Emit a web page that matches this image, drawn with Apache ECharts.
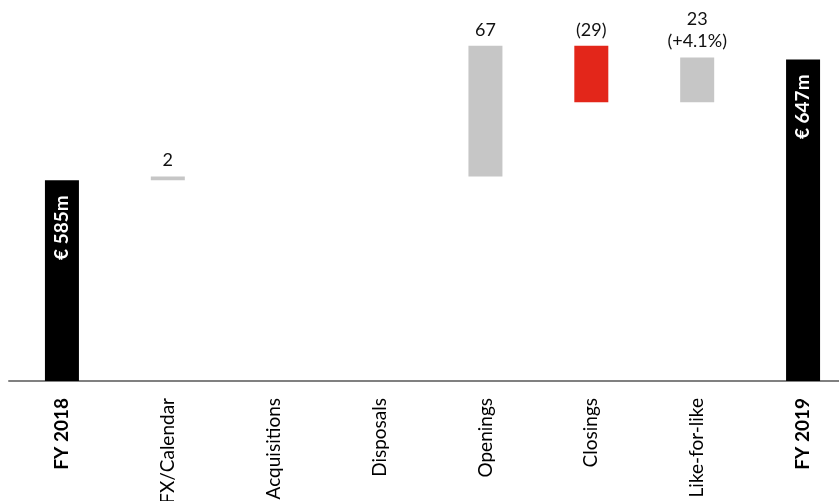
<!DOCTYPE html>
<html>
<head>
<meta charset="utf-8">
<title>Revenue bridge FY 2018 – FY 2019</title>
<script src="https://cdn.jsdelivr.net/npm/echarts@6/dist/echarts.min.js"></script>
<style>
  html, body { margin: 0; padding: 0; background: #fff; overflow: hidden; }
  #chart { width: 860px; height: 501px; }
</style>
</head>
<body>
<div id="chart"></div>
<script>
// Bridge steps from FY 2018 to FY 2019 revenue (€ m)
const categories = ['FY 2018', 'FX/Calendar', 'Acquisitions', 'Disposals', 'Openings', 'Closings', 'Like-for-like', 'FY 2019'];
const kinds = ['total', 'delta', 'delta', 'delta', 'delta', 'delta', 'delta', 'total'];
const values = [585, 2, 0, 0, 67, -29, 23, 647];
const notes = ['', '', '', '', '', '', '(+4.1%)', ''];

const FONT = 'Lato';
const COLORS = { total: '#000000', up: '#c6c6c6', down: '#e3261a' };

// Running totals give the invisible base under each floating step
const baseData = [];
const stepData = [];
let running = 0;
values.forEach((v, i) => {
  if (kinds[i] === 'total') {
    running = v;
    baseData.push(0);
    stepData.push({
      value: v,
      itemStyle: { color: COLORS.total },
      label: {
        show: true, position: 'insideTop', distance: 15, rotate: 90,
        align: 'right', verticalAlign: 'middle', color: '#ffffff',
        fontWeight: 'bold', fontSize: 19, fontFamily: FONT,
        formatter: '€ ' + v + 'm'
      }
    });
    return;
  }
  if (v === 0) { baseData.push(null); stepData.push(null); return; }
  const start = running;
  running += v;
  baseData.push(Math.min(start, running));
  const text = (v < 0 ? '(' + Math.abs(v) + ')' : String(v)) + (notes[i] ? '\n' + notes[i] : '');
  stepData.push({
    value: Math.abs(v),
    itemStyle: { color: v < 0 ? COLORS.down : COLORS.up },
    label: {
      show: true, position: 'top', distance: 5, color: '#111111',
      fontSize: 18, lineHeight: 22, fontFamily: FONT, formatter: text
    }
  });
});

const chart = echarts.init(document.getElementById('chart'), null, { renderer: 'canvas' });
chart.setOption({
  animation: false,
  backgroundColor: '#ffffff',
  grid: { left: 9, width: 847, top: 1, bottom: 120, containLabel: false, outerBoundsMode: 'none' },
  xAxis: {
    type: 'category',
    data: categories,
    axisLine: { show: true, lineStyle: { color: '#808080', width: 2 } },
    axisTick: { show: false },
    splitLine: { show: false },
    axisLabel: {
      rotate: 90,
      margin: 17,
      interval: 0,
      color: '#000000',
      fontSize: 19,
      fontFamily: FONT,
      // totals are set in bold
      formatter: (name, idx) => kinds[idx] === 'total' ? '{b|' + name + '}' : name,
      rich: {
        b: { fontWeight: 'bold', fontSize: 19, fontFamily: FONT, color: '#000000' }
      }
    }
  },
  yAxis: { type: 'value', min: 482, max: 677, show: false, splitLine: { show: false } },
  series: [
    { name: 'base', type: 'bar', stack: 'bridge', barWidth: 34, silent: true,
      itemStyle: { color: 'rgba(0,0,0,0)' }, data: baseData },
    { name: 'step', type: 'bar', stack: 'bridge', barWidth: 34, data: stepData }
  ]
});
</script>
</body>
</html>
